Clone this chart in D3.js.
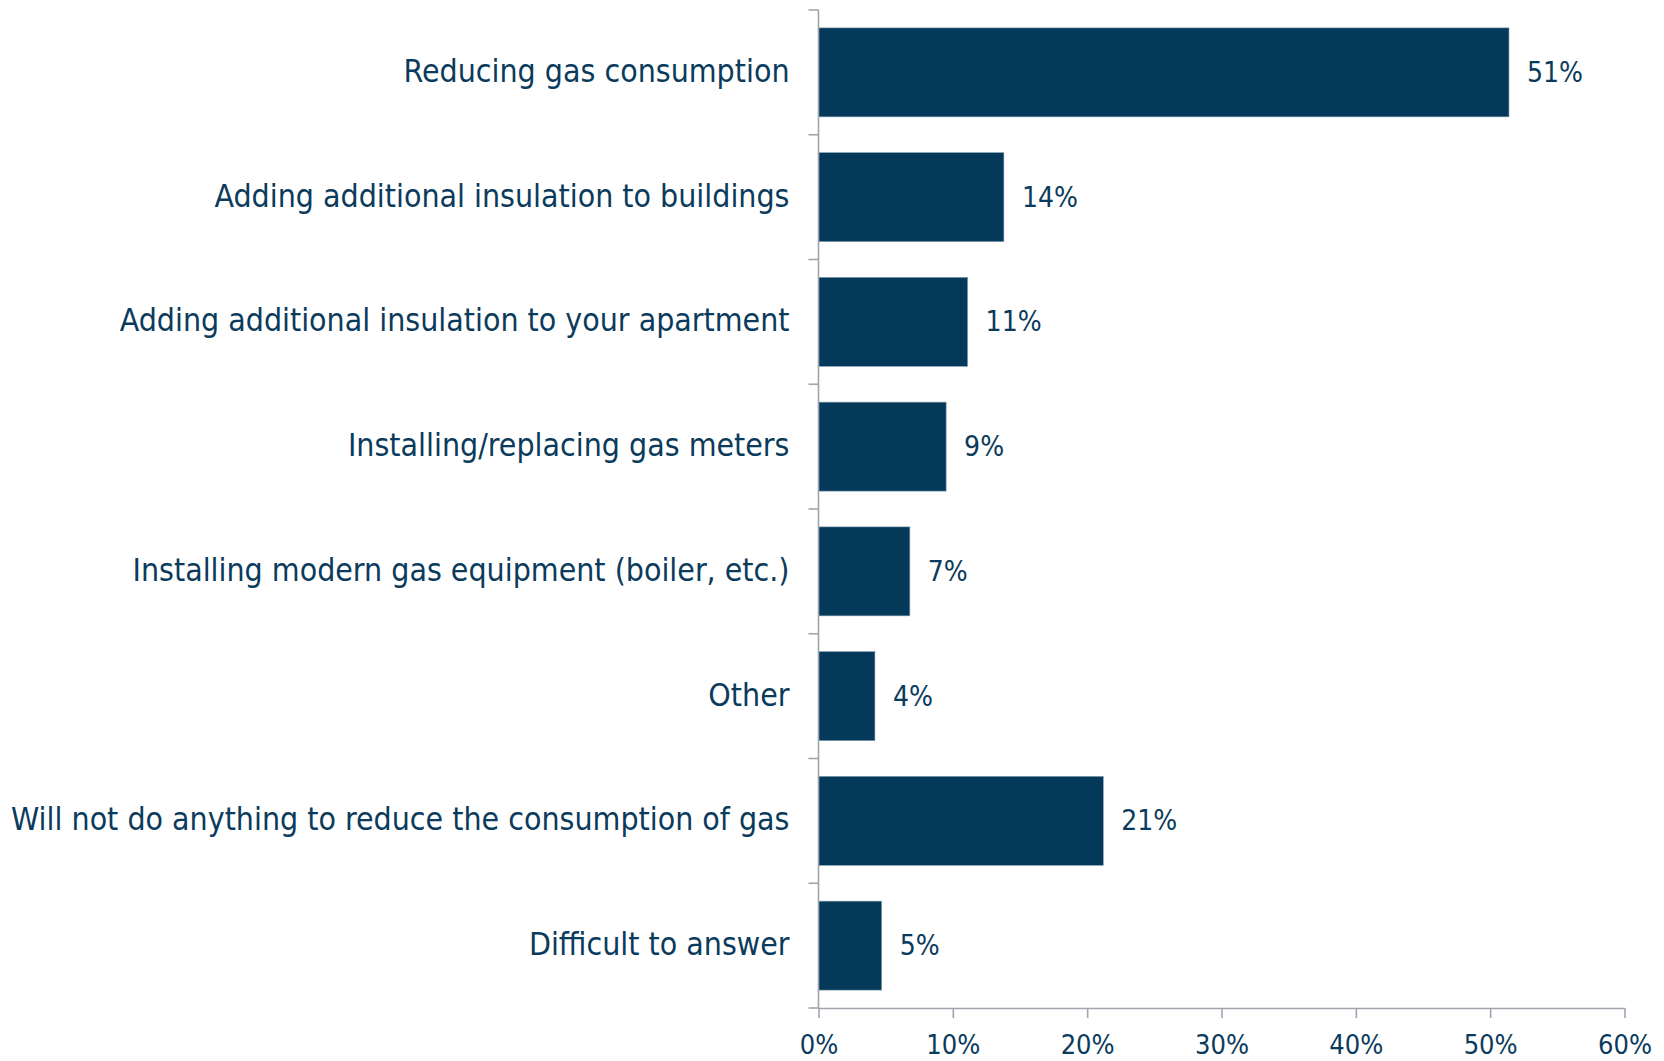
<!DOCTYPE html>
<html>
<head>
<meta charset="utf-8">
<script src="https://cdn.jsdelivr.net/npm/d3@7"></script>
<style>
  html, body { margin: 0; padding: 0; background: #ffffff; }
  svg { display: block; }
</style>
</head>
<body>
<svg id="chart" width="1664" height="1061"></svg>
<script>
const categories = [
  "Reducing gas consumption",
  "Adding additional insulation to buildings",
  "Adding additional insulation to your apartment",
  "Installing/replacing gas meters",
  "Installing modern gas equipment (boiler, etc.)",
  "Other",
  "Will not do anything to reduce the consumption of gas",
  "Difficult to answer"
];
const values = [51.4, 13.8, 11.1, 9.5, 6.8, 4.2, 21.2, 4.7];
const valueLabels = ["51%", "14%", "11%", "9%", "7%", "4%", "21%", "5%"];
const xTicks = [0, 10, 20, 30, 40, 50, 60];

(function () {
const svg = d3.select("#chart");
const pLeft = 818.5, pRight = 1624.5, pTop = 10, pBottom = 1008;
const textColor = "#0b3b5c", barColor = "#04395a", axisColor = "#a0a4ac";
const fontFamily = "'DejaVu Sans Condensed', 'DejaVu Sans', sans-serif";

const x = d3.scaleLinear().domain([0, 60]).range([pLeft, pRight]);
const y = d3.scaleBand().domain(categories).range([pTop, pBottom])
  .paddingInner(0.287).paddingOuter(0.1435);

// bars
svg.append("g").selectAll("rect").data(categories).join("rect")
  .attr("x", x(0))
  .attr("y", d => y(d))
  .attr("width", (d, i) => x(values[i]) - x(0))
  .attr("height", y.bandwidth())
  .attr("fill", barColor)
  .attr("stroke", "#7f9bb0")
  .attr("stroke-width", 0.6);

// y axis line and band ticks
const ax = svg.append("g").attr("stroke", axisColor).attr("stroke-width", 1.6);
ax.append("line").attr("x1", x(0)).attr("x2", x(0)).attr("y1", pTop).attr("y2", pBottom);
d3.range(categories.length + 1).forEach(i => {
  const yy = pTop + i * y.step();
  ax.append("line").attr("x1", x(0) - 10).attr("x2", x(0)).attr("y1", yy).attr("y2", yy);
});

// x axis
const xAxis = d3.axisBottom(x).tickValues(xTicks).tickFormat(d => d + "%").tickSize(10).tickSizeOuter(0);
const gx = svg.append("g").attr("transform", `translate(0,${pBottom})`).call(xAxis);
gx.select(".domain").attr("stroke", axisColor).attr("stroke-width", 1.6);
gx.selectAll(".tick line").attr("stroke", axisColor).attr("stroke-width", 1.6);
gx.selectAll(".tick text")
  .attr("fill", textColor)
  .attr("font-family", fontFamily)
  .attr("font-size", 27)
  .attr("y", 0).attr("dy", "0.36em")
  .attr("transform", "translate(0,36)");

// category labels
const cat = svg.append("g").selectAll("text").data(categories).join("text")
  .attr("x", 789.5)
  .attr("y", d => y(d) + y.bandwidth() / 2)
  .attr("dy", "0.3em")
  .attr("text-anchor", "end")
  .attr("fill", textColor)
  .attr("font-family", fontFamily)
  .attr("font-size", 30)
  .text(d => d);
// fit the longest label to the reference width
let maxW = 0;
cat.each(function () { maxW = Math.max(maxW, this.getComputedTextLength()); });
const fs = 30 * 779 / maxW;
cat.attr("font-size", fs);

// value labels
svg.append("g").selectAll("text").data(categories).join("text")
  .attr("x", (d, i) => x(values[i]) + 18)
  .attr("y", d => y(d) + y.bandwidth() / 2)
  .attr("dy", "0.34em")
  .attr("fill", textColor)
  .attr("font-family", fontFamily)
  .attr("font-size", 28)
  .text((d, i) => valueLabels[i]);
})();
</script>
</body>
</html>
